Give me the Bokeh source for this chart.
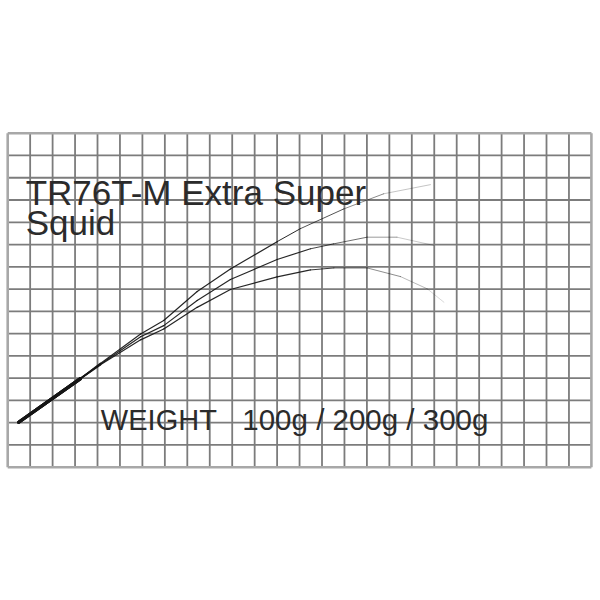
from bokeh.plotting import figure
from bokeh.models import Range1d, ColumnDataSource
from bokeh.embed import file_html
from bokeh.resources import INLINE
from bokeh.core.properties import value
import numpy as np

# ---- data (grid units: 26 columns x 15 rows) ----
n_cols = 26
n_rows = 15

title_line1 = "TR76T-M Extra Super"
title_line2 = "Squid"
weight_label = "WEIGHT"
weight_values = "100g / 200g / 300g"

# rod bend curves (x, y in grid units) for each load
x_100g = [0.49, 3.24, 4.13, 5.92, 6.95, 8.44, 9.92, 12.00, 13.03, 14.97, 16.75, 18.83]
y_100g = [2.02, 3.98, 4.66, 5.98, 6.59, 7.89, 8.90, 10.13, 10.71, 11.60, 12.28, 12.69]

x_200g = [0.49, 3.24, 4.13, 5.92, 6.95, 8.44, 9.92, 12.00, 13.49, 14.51, 16.01, 17.34, 18.98]
y_200g = [2.02, 3.98, 4.63, 5.86, 6.36, 7.49, 8.43, 9.33, 9.81, 10.03, 10.33, 10.33, 9.96]

x_300g = [0.49, 3.24, 4.13, 5.92, 6.95, 8.44, 9.92, 12.00, 13.49, 14.53, 16.01, 17.50, 18.69, 19.43]
y_300g = [2.02, 3.98, 4.60, 5.72, 6.21, 7.18, 7.98, 8.55, 8.86, 8.95, 8.95, 8.56, 8.01, 7.41]

# ---- figure ----
p = figure(width=598, height=598, output_backend="svg", toolbar_location=None,
           x_range=Range1d(-0.321, 26.316), y_range=Range1d(-5.894, 20.959),
           x_axis_location=None, y_axis_location=None, min_border=0)
p.grid.visible = False
p.outline_line_color = None
p.background_fill_color = "white"
p.border_fill_color = "white"

# grid lines
vx = np.arange(1, n_cols)
p.segment(x0=vx, y0=0, x1=vx, y1=n_rows, line_color="#7c7c7c", line_width=1.8)
hy = np.arange(1, n_rows)
p.segment(x0=0, y0=hy, x1=n_cols, y1=hy, line_color="#7c7c7c", line_width=1.8)
# outer border
p.segment(x0=[0, n_cols, 0, 0], y0=[0, 0, 0, n_rows],
          x1=[0, n_cols, n_cols, n_cols], y1=[n_rows, n_rows, 0, n_rows],
          line_color="#a8a8a8", line_width=2.6)

# curves with fading tips
def draw_curve(xs, ys, fade_start):
    xs = np.asarray(xs); ys = np.asarray(ys)
    x0 = xs[:-1]; y0 = ys[:-1]; x1 = xs[1:]; y1 = ys[1:]
    xm = (x0 + x1) / 2
    tip = xs[-1]
    alpha = np.where(xm < 2.5, 1.0, np.where(xm < fade_start, 0.92,
                     0.92 - 0.8 * (xm - fade_start) / (tip - fade_start)))
    width = np.where(xm < 2.5, 3.2, np.where(xm < 4.6, 1.8, 1.2))
    width = np.where(xm > fade_start, 1.0, width)
    src = ColumnDataSource(dict(x0=x0, y0=y0, x1=x1, y1=y1, a=alpha, w=width))
    p.segment(x0="x0", y0="y0", x1="x1", y1="y1", source=src,
              line_color="#151515", line_alpha="a", line_width="w", line_cap="round")

draw_curve(x_100g, y_100g, 12.5)
draw_curve(x_200g, y_200g, 13.0)
draw_curve(x_300g, y_300g, 13.5)

# texts
font = value("Liberation Sans")
p.text(x=[0.80], y=[12.35], text=[title_line1], text_font=font, text_font_size="35px",
       text_color="#2b2b2b", text_baseline="alphabetic", text_align="left")
p.text(x=[0.80], y=[10.99], text=[title_line2], text_font=font, text_font_size="35px",
       text_color="#2b2b2b", text_baseline="alphabetic", text_align="left")
p.text(x=[4.15], y=[2.14], text=[weight_label], text_font=font, text_font_size="29px",
       text_color="#2b2b2b", text_baseline="alphabetic", text_align="left")
p.text(x=[10.45], y=[2.14], text=[weight_values], text_font=font, text_font_size="29.5px",
       text_color="#2b2b2b", text_baseline="alphabetic", text_align="left")

open("out.html", "w").write(file_html(p, INLINE))
